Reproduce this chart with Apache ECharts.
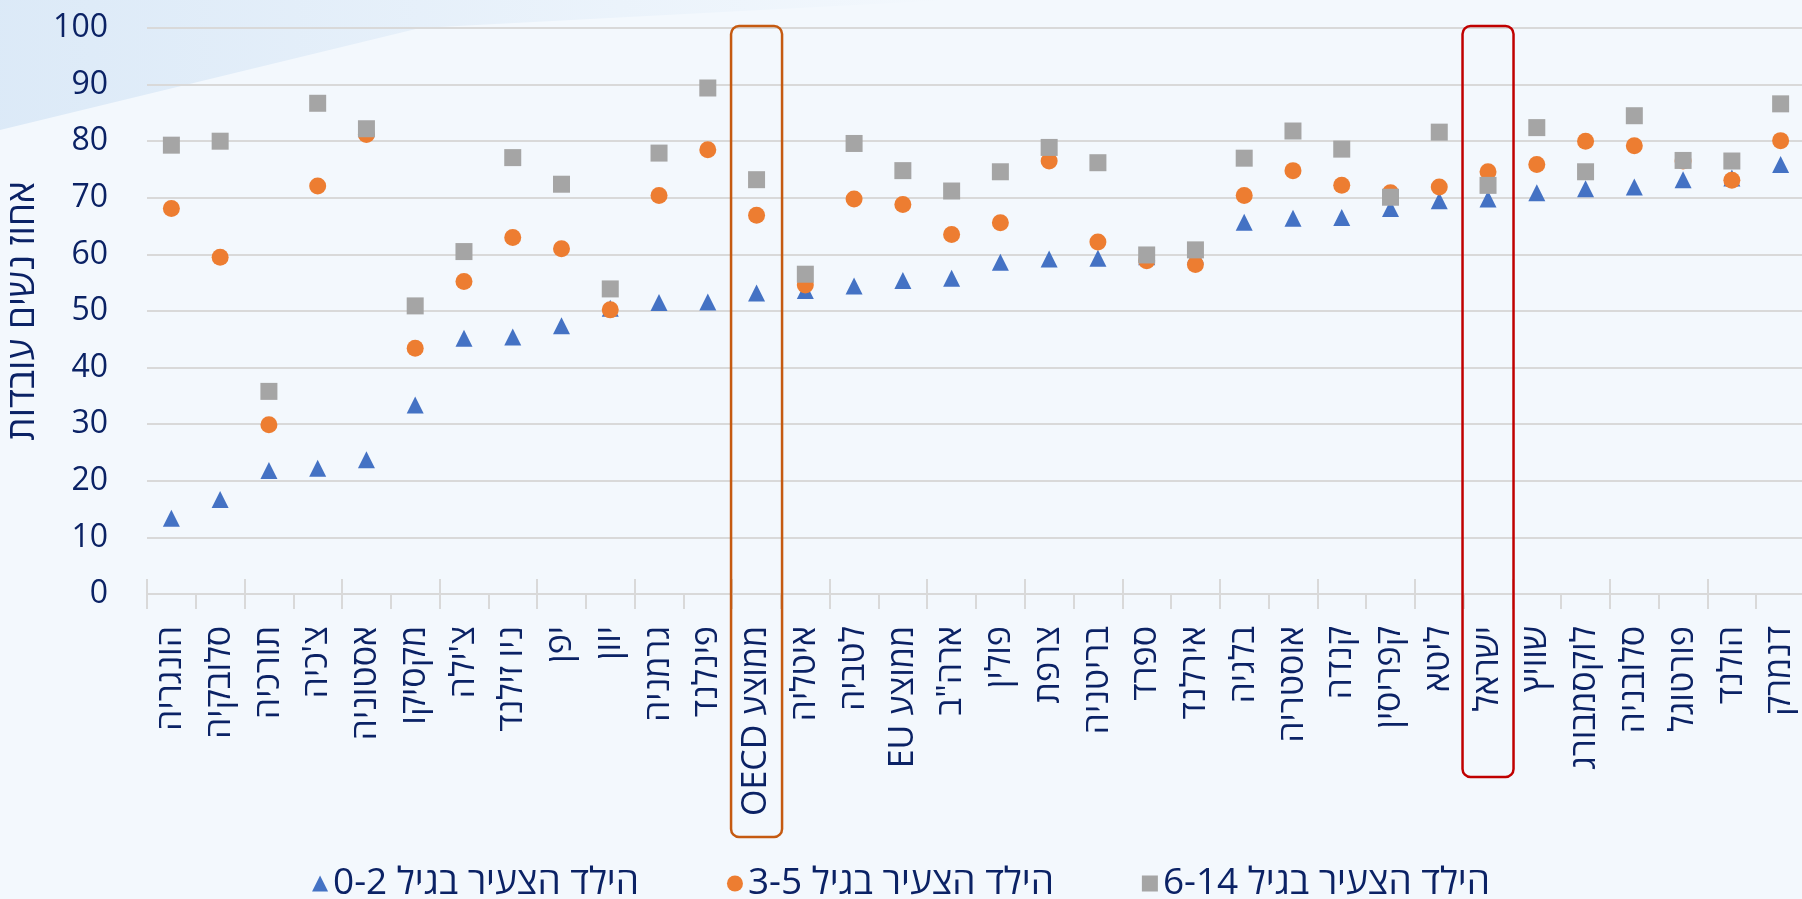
<!DOCTYPE html>
<html>
<head>
<meta charset="utf-8">
<script src="https://cdn.jsdelivr.net/npm/echarts@6/dist/echarts.min.js"></script>
<style>
    html, body { margin: 0; padding: 0; background: #f3f8fd; }
    #mainChart { width: 1802px; height: 899px; }
</style>
</head>
<body>
<div id="mainChart" dir="rtl"></div>
<script>
var categories = ['הונגריה', 'סלובקיה', 'תורכיה', "צ'כיה", 'אסטוניה', 'מקסיקו', "צ'ילה", 'ניו זילנד', 'יפן', 'יוון',
    'גרמניה', 'פינלנד', 'ממוצע OECD', 'איטליה', 'לטביה', 'ממוצע EU', 'ארה"ב', 'פולין', 'צרפת', 'בריטניה',
    'ספרד', 'אירלנד', 'בלגיה', 'אוסטריה', 'קנדה', 'קפריסין', 'ליטא', 'ישראל', 'שוויץ', 'לוקסמבורג',
    'סלובניה', 'פורטוגל', 'הולנד', 'דנמרק'];

var age02 = [13.4, 16.7, 21.8, 22.2, 23.7, 33.4, 45.2, 45.4, 47.4, 50.5, 51.5, 51.6, 53.2, 53.6, 54.4, 55.4, 55.8,
    58.6, 59.2, 59.3, 59.6, 59.9, 65.7, 66.4, 66.5, 68.1, 69.5, 69.8, 70.9, 71.6, 71.9, 73.2, 73.5, 75.9];
var age35 = [68.1, 59.5, 29.9, 72.1, 81.2, 43.4, 55.2, 63.0, 61.0, 50.2, 70.4, 78.5, 66.9, 54.6, 69.8, 68.8, 63.5,
    65.6, 76.5, 62.2, 58.9, 58.2, 70.4, 74.8, 72.2, 70.9, 71.9, 74.6, 75.9, 80.0, 79.2, 76.5, 73.1, 80.1];
var age614 = [79.3, 80.0, 35.8, 86.7, 82.2, 50.9, 60.5, 77.1, 72.4, 53.9, 77.9, 89.4, 73.2, 56.5, 79.6, 74.8, 71.2,
    74.6, 78.9, 76.2, 59.9, 60.8, 77.0, 81.8, 78.6, 70.1, 81.6, 72.2, 82.4, 74.6, 84.5, 76.6, 76.5, 86.6];

var seriesNames = ['הילד הצעיר בגיל 0-2', 'הילד הצעיר בגיל 3-5', 'הילד הצעיר בגיל 6-14'];
var yTicks = { min: 0, max: 100, interval: 10 };

var navy = '#0b2265';
var gridGray = '#d9d9d9';
var numFont = '"Open Sans", "Noto Sans", sans-serif';
var hebFont = '"Open Sans", "DejaVu Sans", sans-serif';

var myChart = echarts.init(document.getElementById('mainChart'));

var option = {
    backgroundColor: '#f3f8fd',
    textStyle: { fontFamily: hebFont },
    animation: false,
    grid: { left: 147, right: -3, top: 28, bottom: 305, outerBoundsMode: 'none' },
    legend: {
        top: 860,
        left: 'center',
        itemWidth: 16,
        itemHeight: 16,
        itemGap: 88,
        textStyle: { fontSize: 37, color: navy, fontFamily: hebFont },
        data: seriesNames
    },
    xAxis: [
        {
            type: 'category',
            data: categories,
            axisLine: { lineStyle: { color: gridGray, width: 2 } },
            axisTick: { show: true, length: 15, lineStyle: { color: gridGray, width: 2 } },
            axisLabel: {
                interval: 0,
                rotate: 90,
                margin: 32,
                fontSize: 34,
                fontFamily: hebFont,
                color: navy
            }
        },
        {
            // ticks crossing the axis line, like the original
            type: 'category',
            data: categories,
            position: 'bottom',
            axisLine: { show: false },
            axisTick: { show: true, inside: true, length: 15, lineStyle: { color: gridGray, width: 2 } },
            axisLabel: { show: false }
        }
    ],
    yAxis: {
        type: 'value',
        min: yTicks.min,
        max: yTicks.max,
        interval: yTicks.interval,
        name: 'אחוז נשים עובדות',
        nameLocation: 'middle',
        nameGap: 104,
        nameTextStyle: { fontSize: 37, color: navy, fontFamily: hebFont },
        axisLine: { show: false },
        axisTick: { show: false },
        axisLabel: { fontSize: 32, color: navy, margin: 39, fontFamily: numFont },
        splitLine: { lineStyle: { color: gridGray, width: 2 } }
    },
    series: [
        {
            name: seriesNames[0],
            type: 'scatter',
            symbol: 'triangle',
            symbolSize: 17,
            itemStyle: { color: '#4472c4', opacity: 1 },
            data: age02
        },
        {
            name: seriesNames[1],
            type: 'scatter',
            symbol: 'circle',
            symbolSize: 17,
            itemStyle: { color: '#ed7d31', opacity: 1 },
            data: age35
        },
        {
            name: seriesNames[2],
            type: 'scatter',
            symbol: 'rect',
            symbolSize: 17,
            itemStyle: { color: '#a5a5a5', opacity: 1 },
            data: age614
        }
    ]
};

option && myChart.setOption(option);

// highlight frames round OECD and Israel, placed from the category axis
function frameFor(category, bottom, color) {
    var cx = myChart.convertToPixel({ xAxisIndex: 0 }, category);
    var w = 51;
    return {
        type: 'rect',
        z: 10,
        shape: { x: cx - w / 2, y: 26, width: w, height: bottom - 26, r: 8 },
        style: { fill: null, stroke: color, lineWidth: 2.5 }
    };
}

myChart.setOption({
    graphic: [
        {
            type: 'polygon',
            z: -10,
            silent: true,
            shape: { points: [[0, 0], [950, 0], [420, 28], [0, 130]] },
            style: {
                fill: {
                    type: 'linear', x: 0, y: 0, x2: 1, y2: 0,
                    colorStops: [
                        { offset: 0, color: 'rgba(214,230,246,0.8)' },
                        { offset: 1, color: 'rgba(214,230,246,0)' }
                    ]
                }
            }
        },
        frameFor('ממוצע OECD', 837, '#c55a11'),
        frameFor('ישראל', 777, '#c00000')
    ]
});
</script>
</body>
</html>
